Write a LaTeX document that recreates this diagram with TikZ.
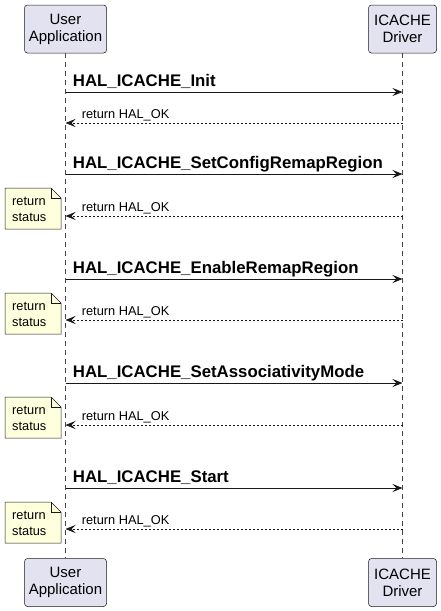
\documentclass[tikz,border=0pt]{standalone}
\usepackage{fontspec}
\setmainfont{Liberation Sans}
\usetikzlibrary{arrows.meta}
\definecolor{partfill}{HTML}{E2E2F0}
\definecolor{notefill}{HTML}{FEFFDD}
\definecolor{linec}{HTML}{181818}
\begin{document}
\begin{tikzpicture}[x=1pt,y=-1pt,
    part/.style={draw=linec, fill=partfill, rounded corners=3pt, line width=.5pt,
                 align=center, font=\fontsize{15}{17}\selectfont,
                 minimum height=48pt, inner sep=0pt},
    life/.style={draw=linec!80, line width=.5pt, dash pattern=on 5pt off 4pt},
    call/.style={draw=linec, line width=.9pt, -{Stealth[length=10pt,width=8pt,inset=4pt]}},
    ret/.style={draw=linec, line width=.7pt, dash pattern=on 2pt off 2pt,
                -{Stealth[length=10pt,width=8pt,inset=4pt]}},
    calltext/.style={font=\bfseries\fontsize{16.8}{19}\selectfont, inner sep=0pt},
    rettext/.style={font=\fontsize{12.8}{15}\selectfont, inner sep=0pt},
    notebody/.style={draw=linec, fill=notefill, line width=.5pt},
    notetext/.style={font=\fontsize{12.8}{16}\selectfont, align=left, inner sep=0pt}]
    \useasboundingbox (0,0) rectangle (441,611);

    % participants
    \node[part, minimum width=82pt] (ua)  at (65.5,29)  {User\\Application};
    \node[part, minimum width=68pt] (drv) at (402.5,29) {ICACHE\\Driver};
    \node[part, minimum width=82pt] (uab)  at (65.5,582.5)  {User\\Application};
    \node[part, minimum width=68pt] (drvb) at (402.5,582.5) {ICACHE\\Driver};
    \draw[life] (ua.south) -- (uab.north);
    \draw[life] (drv.south) -- (drvb.north);

    % HAL_ICACHE_Init
    \coordinate (u1) at (65.5,92);  \coordinate (d1) at (402.5,92);
    \coordinate (u1r) at (65.5,123); \coordinate (d1r) at (402.5,123);
    \draw[call] (u1) -- (d1) node[calltext, pos=0, anchor=base west, xshift=7pt, yshift=6pt] (m1) {HAL\_ICACHE\_Init};
    \draw[ret] (d1r) -- (u1r) node[rettext, pos=1, anchor=base west, xshift=16pt, yshift=5pt] (r1) {return HAL\_OK};

    \begin{scope}[shift={(0,174)}]
    \coordinate (u2) at (65.5,0);  \coordinate (d2) at (402.5,0);
    \coordinate (u2r) at (65.5,42); \coordinate (d2r) at (402.5,42);
    \draw[call] (u2) -- (d2) node[calltext, pos=0, anchor=base west, xshift=7pt, yshift=6pt] (m2) {HAL\_ICACHE\_SetConfigRemapRegion};
    \filldraw[notebody] (5,14) -- (51,14) -- (61,24) -- (61,55) -- (5,55) -- cycle;
    \draw[notebody, fill=none] (51,14) -- (51,24) -- (61,24);
    \node[notetext, anchor=west] (n2) at (12,35.5) {return\\status};
    \draw[ret] (d2r) -- (u2r) node[rettext, pos=1, anchor=base west, xshift=16pt, yshift=5pt] (r2) {return HAL\_OK};
    \end{scope}

    \begin{scope}[shift={(0,279)}]
    \coordinate (u3) at (65.5,0);  \coordinate (d3) at (402.5,0);
    \coordinate (u3r) at (65.5,41); \coordinate (d3r) at (402.5,41);
    \draw[call] (u3) -- (d3) node[calltext, pos=0, anchor=base west, xshift=7pt, yshift=6pt] (m3) {HAL\_ICACHE\_EnableRemapRegion};
    \filldraw[notebody] (5,14) -- (51,14) -- (61,24) -- (61,55) -- (5,55) -- cycle;
    \draw[notebody, fill=none] (51,14) -- (51,24) -- (61,24);
    \node[notetext, anchor=west] (n3) at (12,35.5) {return\\status};
    \draw[ret] (d3r) -- (u3r) node[rettext, pos=1, anchor=base west, xshift=16pt, yshift=5pt] (r3) {return HAL\_OK};
    \end{scope}

    \begin{scope}[shift={(0,383)}]
    \coordinate (u4) at (65.5,0);  \coordinate (d4) at (402.5,0);
    \coordinate (u4r) at (65.5,42); \coordinate (d4r) at (402.5,42);
    \draw[call] (u4) -- (d4) node[calltext, pos=0, anchor=base west, xshift=7pt, yshift=6pt] (m4) {HAL\_ICACHE\_SetAssociativityMode};
    \filldraw[notebody] (5,14) -- (51,14) -- (61,24) -- (61,55) -- (5,55) -- cycle;
    \draw[notebody, fill=none] (51,14) -- (51,24) -- (61,24);
    \node[notetext, anchor=west] (n4) at (12,35.5) {return\\status};
    \draw[ret] (d4r) -- (u4r) node[rettext, pos=1, anchor=base west, xshift=16pt, yshift=5pt] (r4) {return HAL\_OK};
    \end{scope}

    \begin{scope}[shift={(0,488)}]
    \coordinate (u5) at (65.5,0);  \coordinate (d5) at (402.5,0);
    \coordinate (u5r) at (65.5,41); \coordinate (d5r) at (402.5,41);
    \draw[call] (u5) -- (d5) node[calltext, pos=0, anchor=base west, xshift=7pt, yshift=6pt] (m5) {HAL\_ICACHE\_Start};
    \filldraw[notebody] (5,14) -- (51,14) -- (61,24) -- (61,55) -- (5,55) -- cycle;
    \draw[notebody, fill=none] (51,14) -- (51,24) -- (61,24);
    \node[notetext, anchor=west] (n5) at (12,35.5) {return\\status};
    \draw[ret] (d5r) -- (u5r) node[rettext, pos=1, anchor=base west, xshift=16pt, yshift=5pt] (r5) {return HAL\_OK};
    \end{scope}
\end{tikzpicture}
\end{document}
